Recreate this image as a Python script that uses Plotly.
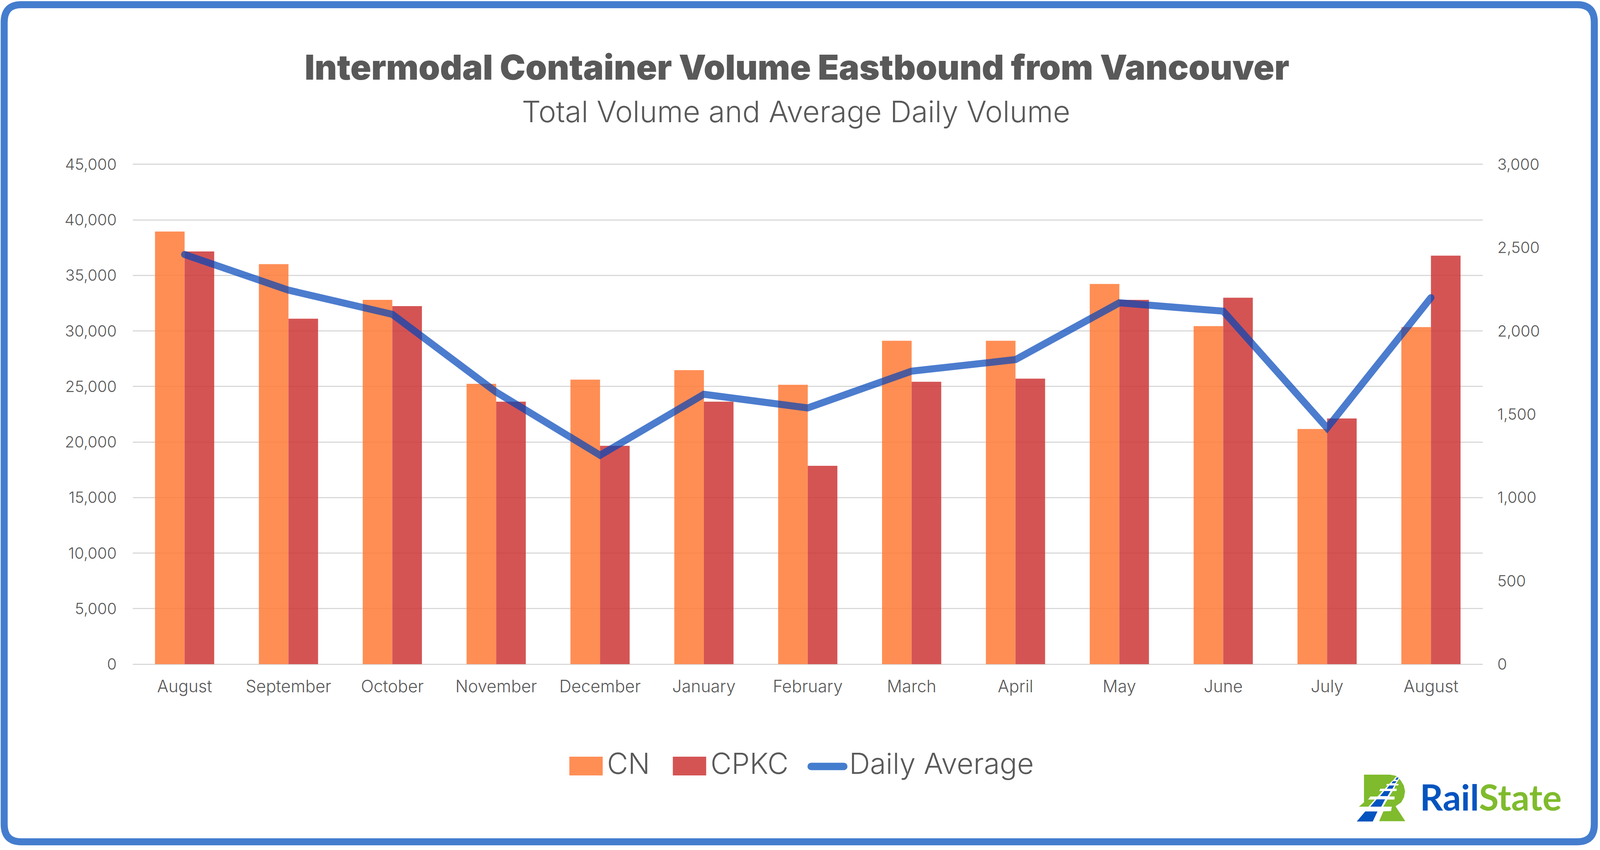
import plotly.graph_objects as go

# positions below are pixels of the 4221x2177 original, turned into paper fractions
W, H = 4221, 2177

# ================== data ==================
months = ["August", "September", "October", "November", "December", "January", "February",
          "March", "April", "May", "June", "July", "August"]
cn = [38950, 36020, 32800, 25240, 25620, 26470, 25150, 29120, 29120, 34230, 30440, 21170, 30350]
cpkc = [37160, 31100, 32240, 23630, 19660, 23630, 17860, 25430, 25710, 32800, 32990, 22120, 36780]
daily_avg = [2459, 2245, 2100, 1633, 1254, 1620, 1538, 1759, 1828, 2169, 2119, 1418, 2200]
left_ticks = [0, 5000, 10000, 15000, 20000, 25000, 30000, 35000, 40000, 45000]
right_ticks = [0, 500, 1000, 1500, 2000, 2500, 3000]

GREY = "#595959"
ORANGE = "#FF7A37"
RED = "#CD3636"
BLUE = "#447DCE"
LINE_BLUE = "rgba(0,69,185,0.7)"  # same blue as BLUE on white, darkens over the bars
LOGO_GREEN = "#7FBB2D"
LOGO_BLUE = "#0454BF"
FONT = "Inter"


def fx(x):
    return x / W


def fy(y):
    return 1 - y / H


def path(points, close=True):
    d = "M" + " L".join(f"{fx(x):.5f},{fy(y):.5f}" for x, y in points)
    return d + (" Z" if close else "")


def logo(x, y):
    # crop coordinates of the logo mark, one crop pixel is a third of a picture pixel
    return 3570 + x / 3, 1970 + y / 3


def logo_path(points):
    return path([logo(x, y) for x, y in points])


x_pos = list(range(len(months)))

# ================== traces ==================
fig = go.Figure()
fig.add_bar(x=x_pos, y=cn, name="CN", marker=dict(color=ORANGE, opacity=0.85, line_width=0))
fig.add_bar(x=x_pos, y=cpkc, name="CPKC", marker=dict(color=RED, opacity=0.85, line_width=0))
fig.add_scatter(x=x_pos, y=daily_avg, name="Daily Average", yaxis="y2", mode="lines",
                line=dict(color=LINE_BLUE, width=18))

x_font = dict(family=FONT, size=43, color=GREY, weight=300)
y_font = dict(family=FONT, size=40, color=GREY, weight=300)

# axis ranges stick out by 2 px, plotly drops gridlines that sit on the very end of a range
fig.update_layout(
    autosize=True,
    margin=dict(l=0, r=0, t=0, b=0, pad=0, autoexpand=False),
    paper_bgcolor="white", plot_bgcolor="white",
    barmode="group", bargap=0.43, bargroupgap=0,
    showlegend=False,
    xaxis=dict(domain=[fx(350), fx(3912)], range=[-0.5, 12.5], tickmode="array",
               tickvals=x_pos, ticktext=months, showgrid=False, zeroline=False,
               showline=False, ticks="", tickfont=x_font, ticklabelstandoff=26),
    yaxis=dict(domain=[fy(1703), fy(419)], range=[-70, 45070], tickmode="array",
               tickvals=left_ticks, tickformat=",", gridcolor="#D9D9D9", gridwidth=3,
               zeroline=False, showline=False, ticks="", tickfont=y_font,
               ticklabelstandoff=40),
    yaxis2=dict(domain=[fy(1703), fy(419)], range=[-4.7, 3004.7], overlaying="y", side="right",
                tickmode="array", tickvals=right_ticks, tickformat=",", showgrid=False,
                zeroline=False, showline=False, ticks="", tickfont=y_font,
                ticklabelstandoff=36),
)


def label(x, y, text, size, anchor="left", weight=300, color=GREY, family=FONT):
    fig.add_annotation(x=fx(x), y=fy(y), xref="paper", yref="paper", text=text, showarrow=False,
                       xanchor=anchor, yanchor="middle", borderpad=0,
                       font=dict(family=family, size=size, color=color, weight=weight))


# ================== title ==================
label(2103, 172, "Intermodal Container Volume Eastbound from Vancouver", 88, "center", 900)
label(2100, 285, "Total Volume and Average Daily Volume", 76, "center", 300)

# ================== legend, the native one keeps its swatches small ==================
fig.add_shape(type="rect", xref="paper", yref="paper", x0=fx(1502), x1=fx(1590), y0=fy(1986), y1=fy(1938),
              fillcolor=ORANGE, opacity=0.85, line_width=0)
fig.add_shape(type="rect", xref="paper", yref="paper", x0=fx(1775), x1=fx(1863), y0=fy(1986), y1=fy(1938),
              fillcolor=RED, opacity=0.85, line_width=0)
fig.add_shape(type="path", xref="paper", yref="paper", path=path([(2140, 1963), (2226, 1963)], close=False),
              line=dict(color=BLUE, width=19))
label(1600, 1955, "CN", 74)
label(1873, 1955, "CPKC", 74)
label(2239, 1955, "Daily Average", 74)

# ================== outer frame ==================
r = 45
x0, x1, y0, y1 = 11, 4206, 12, 2156
frame = (f"M{fx(x0 + r):.5f},{fy(y0):.5f} L{fx(x1 - r):.5f},{fy(y0):.5f} "
         f"Q{fx(x1):.5f},{fy(y0):.5f} {fx(x1):.5f},{fy(y0 + r):.5f} "
         f"L{fx(x1):.5f},{fy(y1 - r):.5f} Q{fx(x1):.5f},{fy(y1):.5f} {fx(x1 - r):.5f},{fy(y1):.5f} "
         f"L{fx(x0 + r):.5f},{fy(y1):.5f} Q{fx(x0):.5f},{fy(y1):.5f} {fx(x0):.5f},{fy(y1 - r):.5f} "
         f"L{fx(x0):.5f},{fy(y0 + r):.5f} Q{fx(x0):.5f},{fy(y0):.5f} {fx(x0 + r):.5f},{fy(y0):.5f} Z")
fig.add_shape(type="path", xref="paper", yref="paper", path=frame, line=dict(color=BLUE, width=18))

# ================== logo ==================
body = [(85, 42), (290, 42), (335, 50), (375, 85), (400, 125), (410, 170), (402, 215), (380, 255),
        (335, 285), (412, 400), (205, 400), (238, 325), (300, 320), (305, 288), (45, 288), (85, 255)]
rail_bed = [(335, 60), (368, 60), (360, 82), (342, 108), (324, 150), (287, 207), (237, 288),
            (205, 402), (20, 402), (120, 288), (195, 207), (250, 150), (290, 108), (320, 80)]
ties = [[(265, 113), (360, 113), (356, 125), (262, 125)],
        [(215, 150), (345, 150), (342, 168), (205, 168)],
        [(135, 210), (328, 210), (326, 233), (118, 233)],
        [(60, 288), (305, 288), (298, 322), (30, 322)]]
rails = [[(332, 82), (345, 64), (360, 64), (350, 82)],
         [(303, 108), (315, 92), (342, 92), (332, 108)],
         [(265, 150), (285, 125), (325, 125), (310, 150)],
         [(212, 207), (245, 168), (295, 168), (272, 207)],
         [(135, 288), (185, 232), (252, 232), (222, 288)],
         [(28, 402), (95, 325), (192, 325), (155, 402)]]

fig.add_shape(type="path", xref="paper", yref="paper", path=logo_path(body), fillcolor=LOGO_GREEN, line_width=0)
fig.add_shape(type="path", xref="paper", yref="paper", path=logo_path(rail_bed), fillcolor="white", line_width=0)
for tie in ties:
    fig.add_shape(type="path", xref="paper", yref="paper", path=logo_path(tie), fillcolor="white", line_width=0)
for rail in rails:
    fig.add_shape(type="path", xref="paper", yref="paper", path=logo_path(rail), fillcolor=LOGO_BLUE, line_width=0)
label(3745, 2040, f'<span style="color:{LOGO_BLUE}">Rail</span><span style="color:{LOGO_GREEN}">State</span>',
      92, weight=700, family="Lato")

# the browser may cap the window width, so the page fills whatever window it gets
fig.write_html("out.html", config={"displayModeBar": False}, default_width="100vw", default_height="100vh",
               post_script=(
    "document.body.style.margin='0';document.body.style.overflow='hidden';"
    "document.querySelectorAll('.scatterlayer .js-line').forEach(p=>p.style.strokeLinecap='round');"
    "document.querySelectorAll('.layer-above path').forEach(p=>p.style.strokeLinecap='round');"))
